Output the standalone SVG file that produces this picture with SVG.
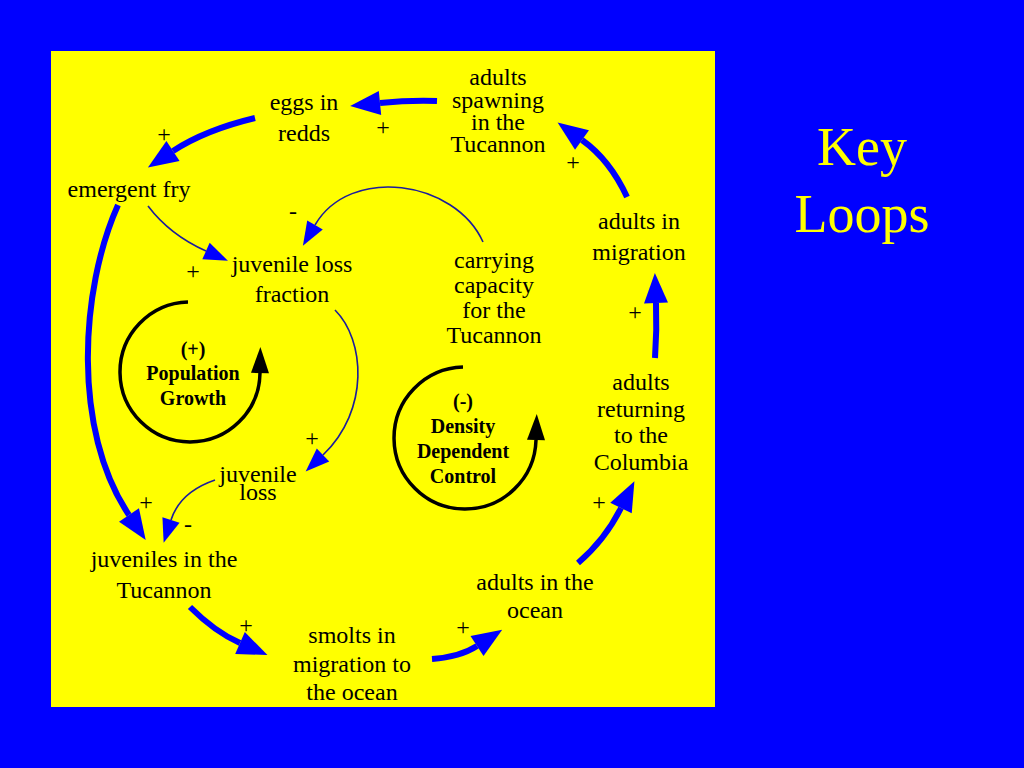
<svg xmlns="http://www.w3.org/2000/svg" width="1024" height="768" viewBox="0 0 1024 768">
<style>
.n{font-family:"Liberation Serif","Times New Roman",serif;font-size:24px;fill:#000;text-anchor:middle}
.s{font-family:"Liberation Serif","Times New Roman",serif;font-size:24px;fill:#000;text-anchor:middle}
.l{font-family:"Liberation Serif","Times New Roman",serif;font-size:20px;font-weight:bold;fill:#000;text-anchor:middle}
.k{font-family:"Liberation Serif","Times New Roman",serif;font-size:54px;fill:#FFFF00;text-anchor:middle}
.thick{fill:none;stroke:#0000FF;stroke-width:6;marker-end:url(#ah)}
.thin{fill:none;stroke:#1C1C9C;stroke-width:1.6;marker-end:url(#at)}
.loop{fill:none;stroke:#000;stroke-width:3.5;marker-end:url(#al)}
</style>
<defs>
<marker id="ah" markerUnits="userSpaceOnUse" markerWidth="30" markerHeight="24" refX="0" refY="12" orient="auto" overflow="visible"><path d="M0,0 L30,12 L0,24 z" fill="#0000FF"/></marker>
<marker id="at" markerUnits="userSpaceOnUse" markerWidth="24" markerHeight="18" refX="0" refY="9" orient="auto" overflow="visible"><path d="M0,0 L24,9 L0,18 z" fill="#0000FF"/></marker>
<marker id="al" markerUnits="userSpaceOnUse" markerWidth="26" markerHeight="18" refX="0" refY="9" orient="auto" overflow="visible"><path d="M0,0 L26,9 L0,18 z" fill="#000"/></marker>
</defs>
<rect x="0" y="0" width="1024" height="768" fill="#0000FF"/>
<rect x="51" y="51" width="664" height="656" fill="#FFFF00"/>

<g id="connectors">
<path class="thick" d="M437,101 Q410,100 380,103"/>
<path class="thick" d="M255,118 Q205,130 173,151"/>
<path class="thick" d="M118,205 C80,290 72,430 129,515"/>
<path class="thick" d="M190,607 Q215,632 240,643"/>
<path class="thick" d="M432,659 Q460,657 477,646"/>
<path class="thick" d="M578,563 Q605,540 621,508"/>
<path class="thick" d="M655,358 Q657,330 656,303"/>
<path class="thick" d="M627,197 Q610,160 582,140"/>
<path class="thin" d="M148,206 Q170,235 206,251"/>
<path class="thin" d="M483,242 C455,180 350,165 315,225"/>
<path class="thin" d="M335,310 C365,340 370,410 323,455"/>
<path class="thin" d="M215,480 Q180,492 171,520"/>
<g id="signs">
<text class="s" x="383" y="135">+</text>
<text class="s" x="164" y="142">+</text>
<text class="s" x="193" y="279">+</text>
<text class="s" x="293" y="219">-</text>
<text class="s" x="312" y="446">+</text>
<text class="s" x="146" y="510">+</text>
<text class="s" x="188" y="532">-</text>
<text class="s" x="246" y="633">+</text>
<text class="s" x="463" y="635">+</text>
<text class="s" x="599" y="510">+</text>
<text class="s" x="635" y="320">+</text>
<text class="s" x="573" y="170">+</text>
</g>
</g>

<g id="loop-population">
<path class="loop" d="M188,302 A70,70 0 1 0 260,373"/>
<text class="l" x="193" y="356">(+)</text>
<text class="l" x="193" y="380">Population</text>
<text class="l" x="193" y="405">Growth</text>
</g>
<g id="loop-density">
<path class="loop" d="M463,367 A71,71 0 1 0 536,440"/>
<text class="l" x="463" y="408">(-)</text>
<text class="l" x="463" y="433">Density</text>
<text class="l" x="463" y="458">Dependent</text>
<text class="l" x="463" y="483">Control</text>
</g>

<g id="eggs"><text class="n" x="304" y="110">eggs in</text><text class="n" x="304" y="141">redds</text></g>
<g id="spawning"><text class="n" x="498" y="85">adults</text><text class="n" x="498" y="108">spawning</text><text class="n" x="498" y="130">in the</text><text class="n" x="498" y="152">Tucannon</text></g>
<g id="fry"><text class="n" x="129" y="197">emergent fry</text></g>
<g id="fraction"><text class="n" x="292" y="272">juvenile loss</text><text class="n" x="292" y="302">fraction</text></g>
<g id="capacity"><text class="n" x="494" y="268">carrying</text><text class="n" x="494" y="293">capacity</text><text class="n" x="494" y="318">for the</text><text class="n" x="494" y="343">Tucannon</text></g>
<g id="migration"><text class="n" x="639" y="229">adults in</text><text class="n" x="639" y="260">migration</text></g>
<g id="returning"><text class="n" x="641" y="390">adults</text><text class="n" x="641" y="417">returning</text><text class="n" x="641" y="443">to the</text><text class="n" x="641" y="470">Columbia</text></g>
<g id="ocean"><text class="n" x="535" y="590">adults in the</text><text class="n" x="535" y="618">ocean</text></g>
<g id="smolts"><text class="n" x="352" y="643">smolts in</text><text class="n" x="352" y="672">migration to</text><text class="n" x="352" y="700">the ocean</text></g>
<g id="juveniles"><text class="n" x="164" y="567">juveniles in the</text><text class="n" x="164" y="598">Tucannon</text></g>
<g id="loss"><text class="n" x="258" y="482">juvenile</text><text class="n" x="258" y="500">loss</text></g>

<g id="title"><text class="k" x="862" y="165">Key</text><text class="k" x="862" y="232">Loops</text></g>
</svg>
